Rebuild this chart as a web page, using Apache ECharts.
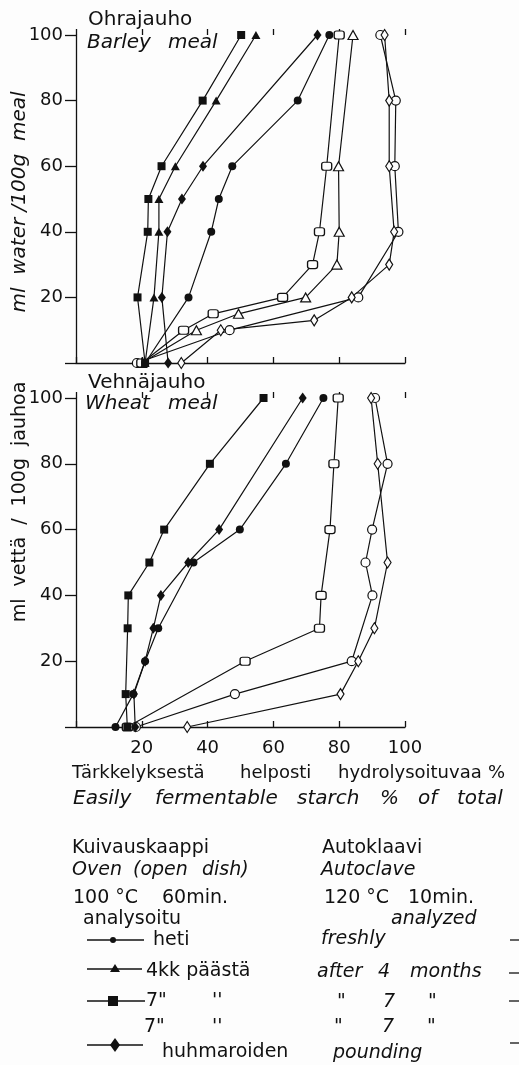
<!DOCTYPE html>
<html><head><meta charset="utf-8">
<script src="https://cdn.jsdelivr.net/npm/echarts@6/dist/echarts.min.js"></script>
<style>html,body{margin:0;padding:0;background:#fdfdfd}#c{width:519px;height:1065px}</style>
</head><body><div id="c"></div>
<script>
// ---- Axis ticks ----
const axisTicks = [0, 20, 40, 60, 80, 100];

// ---- Barley meal (Ohrajauho): x = easily fermentable starch %, y = ml water / 100 g ----
const barleyOvenFreshWater   = [0, 20, 40, 50, 60, 80, 100];
const barleyOvenFreshStarch  = [21, 34.2, 41.1, 43.4, 47.5, 67.4, 77];
const barleyOven4mWater      = [0, 20, 40, 50, 60, 80, 100];
const barleyOven4mStarch     = [21, 23.7, 25.2, 25.2, 30.2, 42.6, 54.7];
const barleyOven7mWater      = [0, 20, 40, 50, 60, 80, 100];
const barleyOven7mStarch     = [21, 18.7, 21.8, 22, 26, 38.5, 50.2];
const barleyOvenPoundWater   = [0, 20, 40, 50, 60, 100];
const barleyOvenPoundStarch  = [28, 26.1, 27.8, 32.2, 38.6, 73.4];
const barleyAutoFreshWater   = [0, 10, 20, 40, 60, 80, 100];
const barleyAutoFreshStarch  = [18.5, 46.7, 85.8, 98, 96.9, 97.2, 92.5];
const barleyAuto4mWater      = [0, 10, 15, 20, 30, 40, 60, 100];
const barleyAuto4mStarch     = [20, 36.6, 49.4, 69.8, 79.3, 80, 79.8, 84.2];
const barleyAuto7mWater      = [0, 10, 15, 20, 30, 40, 60, 100];
const barleyAuto7mStarch     = [20, 32.7, 41.7, 62.8, 71.9, 74, 76.2, 80];
const barleyAutoPoundWater   = [0, 10, 13, 20, 30, 40, 60, 80, 100];
const barleyAutoPoundStarch  = [32, 44, 72.4, 83.8, 95.2, 96.7, 95.2, 95.2, 93.8];

// ---- Wheat meal (Vehnäjauho) ----
const wheatOvenFreshWater    = [0, 10, 20, 30, 50, 60, 80, 100];
const wheatOvenFreshStarch   = [12, 17.4, 21, 25, 35.7, 49.8, 63.8, 75.2];
const wheatOven7mWater       = [0, 10, 30, 40, 50, 60, 80, 100];
const wheatOven7mStarch      = [15.6, 15.1, 15.7, 15.9, 22.3, 26.8, 40.7, 57];
const wheatOvenPoundWater    = [0, 10, 20, 30, 40, 50, 60, 100];
const wheatOvenPoundStarch   = [18, 17.6, 21, 23.5, 25.8, 34.1, 43.5, 68.9];
const wheatAutoFreshWater    = [0, 10, 20, 40, 50, 60, 80, 100];
const wheatAutoFreshStarch   = [18.2, 48.3, 83.8, 90.1, 88, 90, 94.7, 90.9];
const wheatAuto7mWater       = [0, 20, 30, 40, 60, 80, 100];
const wheatAuto7mStarch      = [15.6, 51.4, 74, 74.5, 77.2, 78.4, 79.7];
const wheatAutoPoundWater    = [0, 10, 20, 30, 50, 80, 100];
const wheatAutoPoundStarch   = [33.8, 80.4, 85.8, 90.7, 94.7, 91.7, 89.7];

const INK = '#111';
const FONT = "'DejaVu Sans', sans-serif";

function pairs(xs, ys) { return xs.map((x, i) => [x, ys[i]]); }

const markerDefs = {
  circleF:  { symbol: 'circle',   size: 8,       filled: true },
  triF:     { symbol: 'triangle', size: [9, 8],  filled: true },
  rectF:    { symbol: 'rect',     size: [8, 8],  filled: true },
  diamF:    { symbol: 'diamond',  size: [8, 11], filled: true },
  circleO:  { symbol: 'circle',   size: 9,       filled: false },
  triO:     { symbol: 'triangle', size: [10, 9], filled: false },
  rectO:    { symbol: 'roundRect',size: [10, 8], filled: false },
  diamO:    { symbol: 'diamond',  size: [7, 11], filled: false }
};

function ser(name, xs, ys, mk, panel) {
  const m = markerDefs[mk];
  return {
    name: name, type: 'line',
    xAxisIndex: panel === 0 ? 0 : 2, yAxisIndex: panel,
    data: pairs(xs, ys),
    symbol: m.symbol, symbolSize: m.size, showAllSymbol: true,
    lineStyle: { color: INK, width: 1.2 },
    itemStyle: { color: m.filled ? INK : '#fdfdfd', borderColor: INK, borderWidth: m.filled ? 0 : 1.2 },
    z: m.filled ? 3 : 2,
    emphasis: { disabled: true }
  };
}

const series = [
  ser('Barley oven freshly', barleyOvenFreshStarch, barleyOvenFreshWater, 'circleF', 0),
  ser('Barley oven 4 months', barleyOven4mStarch, barleyOven4mWater, 'triF', 0),
  ser('Barley oven 7 months', barleyOven7mStarch, barleyOven7mWater, 'rectF', 0),
  ser('Barley oven pounding', barleyOvenPoundStarch, barleyOvenPoundWater, 'diamF', 0),
  ser('Barley autoclave freshly', barleyAutoFreshStarch, barleyAutoFreshWater, 'circleO', 0),
  ser('Barley autoclave 4 months', barleyAuto4mStarch, barleyAuto4mWater, 'triO', 0),
  ser('Barley autoclave 7 months', barleyAuto7mStarch, barleyAuto7mWater, 'rectO', 0),
  ser('Barley autoclave pounding', barleyAutoPoundStarch, barleyAutoPoundWater, 'diamO', 0),
  ser('Wheat oven freshly', wheatOvenFreshStarch, wheatOvenFreshWater, 'circleF', 1),
  ser('Wheat oven 7 months', wheatOven7mStarch, wheatOven7mWater, 'rectF', 1),
  ser('Wheat oven pounding', wheatOvenPoundStarch, wheatOvenPoundWater, 'diamF', 1),
  ser('Wheat autoclave freshly', wheatAutoFreshStarch, wheatAutoFreshWater, 'circleO', 1),
  ser('Wheat autoclave 7 months', wheatAuto7mStarch, wheatAuto7mWater, 'rectO', 1),
  ser('Wheat autoclave pounding', wheatAutoPoundStarch, wheatAutoPoundWater, 'diamO', 1)
];

const tickMin = axisTicks[0], tickMax = axisTicks[axisTicks.length - 1], tickStep = axisTicks[1] - axisTicks[0];
const lbl = v => (v === 0 ? '' : String(v));

function xMain(grid, showLabels) {
  return {
    type: 'value', gridIndex: grid, min: tickMin, max: tickMax, interval: tickStep,
    axisLine: { show: true, lineStyle: { color: INK, width: 1.3 } },
    axisTick: { show: true, inside: true, length: 6, lineStyle: { color: INK, width: 1.3 } },
    axisLabel: { show: showLabels, formatter: lbl, margin: 12, color: INK, fontSize: 18, fontFamily: FONT },
    splitLine: { show: false }
  };
}
function xOuter(grid) {
  return {
    type: 'value', gridIndex: grid, min: tickMin, max: tickMax, interval: tickStep,
    axisLine: { show: false },
    axisTick: { show: true, inside: false, length: 6, lineStyle: { color: INK, width: 1.3 } },
    axisLabel: { show: false }, splitLine: { show: false }
  };
}
function yAx(grid) {
  return {
    type: 'value', gridIndex: grid, min: tickMin, max: tickMax, interval: tickStep,
    axisLine: { show: true, lineStyle: { color: INK, width: 1.3 } },
    axisTick: { show: true, inside: false, length: 11, lineStyle: { color: INK, width: 1.3 } },
    axisLabel: { formatter: lbl, margin: 13, color: INK, fontSize: 18, fontFamily: FONT },
    splitLine: { show: false }
  };
}

function T(x, y, text, size, italic, extra) {
  return Object.assign({
    type: 'text', x: x, y: y, silent: true,
    style: { text: text, fill: INK, font: (italic ? 'italic ' : '') + size + 'px ' + FONT, align: 'left', verticalAlign: 'middle' }
  }, extra || {});
}
function L(x1, y1, x2, y2) {
  return { type: 'line', silent: true, shape: { x1, y1, x2, y2 }, style: { stroke: INK, lineWidth: 1.3 } };
}

const graphics = [
  // panel titles
  T(88, 20, 'Ohrajauho', 20, false),
  T(87, 43, 'Barley', 20, true), T(168, 43, 'meal', 20, true),
  T(88, 383, 'Vehnäjauho', 20, false),
  T(85, 404, 'Wheat', 20, true), T(168, 404, 'meal', 20, true),
  // y-axis titles (rotated)
  T(20, 202, '', 20, true, { rotation: Math.PI / 2, style: { text: 'ml  water /100g  meal', fill: INK, font: 'italic 20px ' + FONT, align: 'center', verticalAlign: 'middle' } }),
  T(20, 502, '', 19, false, { rotation: Math.PI / 2, style: { text: 'ml  vettä  /  100g  jauhoa', fill: INK, font: '19px ' + FONT, align: 'center', verticalAlign: 'middle' } }),
  // x-axis title
  T(72, 773, 'Tärkkelyksestä', 18, false), T(240, 773, 'helposti', 18, false),
  T(338, 773, 'hydrolysoituvaa', 18, false), T(488, 773, '%', 18, false),
  T(73, 799, 'Easily', 20, true), T(155, 799, 'fermentable', 20, true), T(297, 799, 'starch', 20, true),
  T(380, 799, '%', 20, true), T(418, 799, 'of', 20, true), T(457, 799, 'total', 20, true),
  // legend – left column
  T(72, 848, 'Kuivauskaappi', 19, false),
  T(72, 870, 'Oven', 19, true), T(133, 870, '(open', 19, true), T(202, 870, 'dish)', 19, true),
  T(73, 898, '100 °C', 19, false), T(162, 898, '60min.', 19, false),
  T(83, 919, 'analysoitu', 19, false),
  L(87, 940, 144, 940), { type: 'circle', silent: true, shape: { cx: 113, cy: 940, r: 3 }, style: { fill: INK } },
  T(153, 940, 'heti', 19, false),
  L(87, 969, 142, 969), { type: 'polygon', silent: true, shape: { points: [[115, 964], [120, 972], [110, 972]] }, style: { fill: INK } },
  T(146, 971, '4kk päästä', 19, false),
  L(87, 1001, 145, 1001), { type: 'rect', silent: true, shape: { x: 108, y: 996, width: 10, height: 10 }, style: { fill: INK } },
  T(146, 1001, '7"', 19, false), T(212, 1001, "''", 19, false),
  T(144, 1027, '7"', 19, false), T(212, 1027, "''", 19, false),
  L(87, 1045, 143, 1045), { type: 'polygon', silent: true, shape: { points: [[115, 1038], [120, 1045], [115, 1052], [110, 1045]] }, style: { fill: INK } },
  T(162, 1052, 'huhmaroiden', 19, false),
  // legend – right column
  T(322, 848, 'Autoklaavi', 19, false),
  T(321, 870, 'Autoclave', 19, true),
  T(324, 898, '120 °C', 19, false), T(408, 898, '10min.', 19, false),
  T(391, 919, 'analyzed', 19, true),
  T(321, 939, 'freshly', 19, true),
  T(317, 972, 'after', 19, true), T(378, 972, '4', 19, true), T(410, 972, 'months', 19, true),
  T(337, 1002, '"', 19, true), T(383, 1002, '7', 19, true), T(428, 1002, '"', 19, true),
  T(334, 1027, '"', 19, true), T(382, 1027, '7', 19, true), T(427, 1027, '"', 19, true),
  T(333, 1053, 'pounding', 19, true),
  L(510, 940, 519, 940), L(509, 973, 519, 973), L(509, 1001, 519, 1001), L(510, 1043, 519, 1043)
];

const chart = echarts.init(document.getElementById('c'), null, { renderer: 'canvas' });
chart.setOption({
  backgroundColor: '#fdfdfd',
  animation: false,
  grid: [
    { left: 76, top: 35, width: 329, height: 328 },
    { left: 76, top: 398, width: 329, height: 329 }
  ],
  xAxis: [xMain(0, false), xOuter(0), xMain(1, true), xOuter(1)],
  yAxis: [yAx(0), yAx(1)],
  series: series,
  graphic: graphics
});
</script>
</body></html>
